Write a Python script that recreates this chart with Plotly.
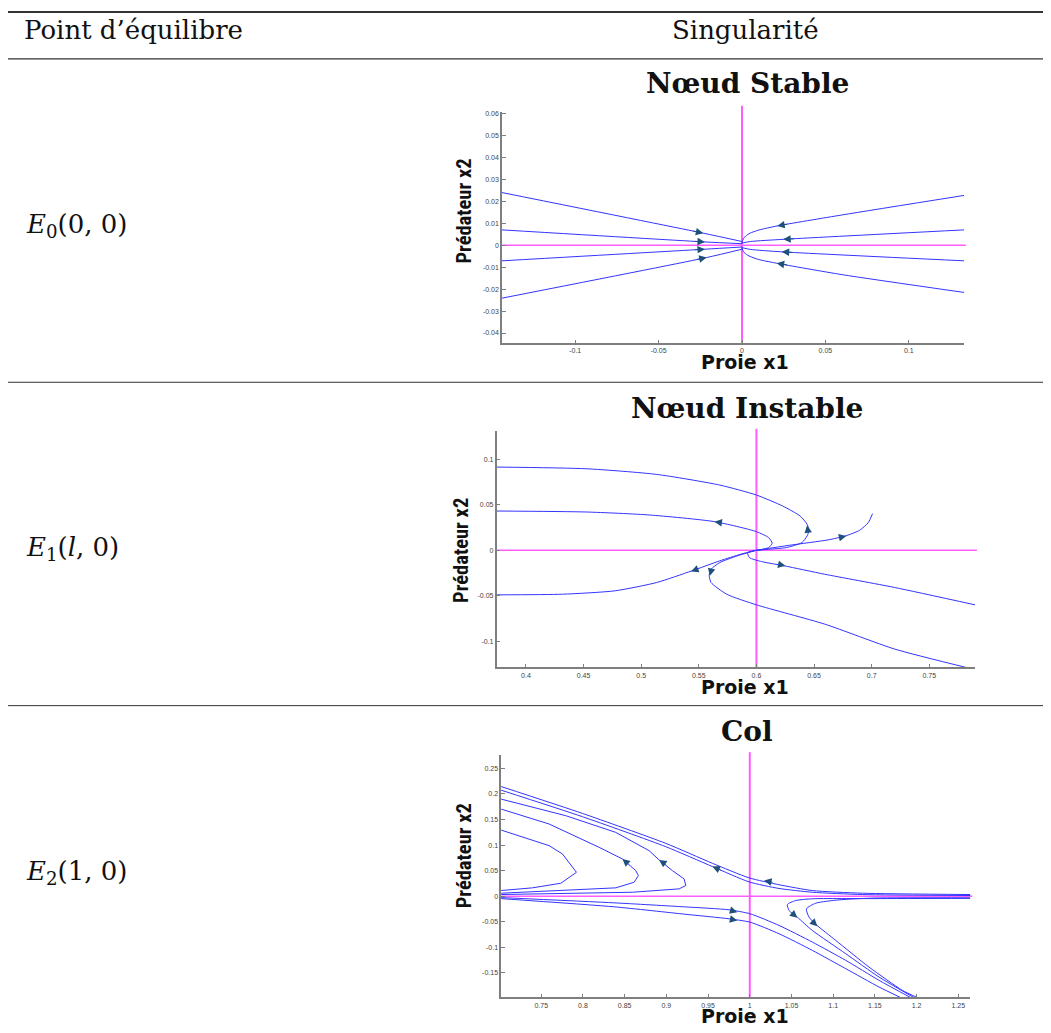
import plotly.graph_objects as go

# ---------------- data ----------------
# Panel 1 : stable node (E0)
p1_a_x = [-0.1439, -0.0232, 0.0]
p1_a_y = [0.0240, 0.0055, 0.0017]
p1_b_x = [-0.1439, -0.0222, 0.0]
p1_b_y = [0.0070, 0.0015, 0.0007]
p1_c_x = [-0.1439, -0.0222, 0.0]
p1_c_y = [-0.0071, -0.0018, -0.0008]
p1_d_x = [-0.1439, -0.0212, 0.0]
p1_d_y = [-0.0241, -0.0056, -0.0018]
p1_e_x = [0.1331, 0.06, 0.0211, 0.01, 0.0048, 0.0022, 0.0008, 0.0002, 0.0]
p1_e_y = [0.0227, 0.0138, 0.0088, 0.0069, 0.0055, 0.0042, 0.0029, 0.0017, 0.0008]
p1_f_x = [0.1331, 0.0247, 0.005, 0.0]
p1_f_y = [0.0070, 0.0027, 0.0017, 0.0010]
p1_g_x = [0.1331, 0.0238, 0.005, 0.0]
p1_g_y = [-0.0071, -0.0030, -0.0019, -0.0011]
p1_h_x = [0.1331, 0.06, 0.0208, 0.01, 0.0048, 0.0022, 0.0008, 0.0002, 0.0]
p1_h_y = [-0.0215, -0.0134, -0.0082, -0.0065, -0.0051, -0.0040, -0.0028, -0.0017, -0.0009]
p1_arrow_head_x = [-0.0232, -0.0222, -0.0222, -0.0212, 0.0211, 0.0247, 0.0238, 0.0208]
p1_arrow_head_y = [0.0055, 0.0015, -0.0018, -0.0056, 0.0088, 0.0027, -0.0030, -0.0082]
p1_arrow_tail_x = [-0.0300, -0.0290, -0.0290, -0.0280, 0.0280, 0.0320, 0.0310, 0.0280]
p1_arrow_tail_y = [0.0066, 0.0018, -0.0021, -0.0066, 0.0097, 0.0030, -0.0033, -0.0091]
p1_xtick_vals = [-0.1, -0.05, 0, 0.05, 0.1]
p1_xtick_text = ["-0.1", "-0.05", "0", "0.05", "0.1"]
p1_ytick_vals = [0.06, 0.05, 0.04, 0.03, 0.02, 0.01, 0, -0.01, -0.02, -0.03, -0.04]
p1_ytick_text = ["0.06", "0.05", "0.04", "0.03", "0.02", "0.01", "0", "-0.01", "-0.02", "-0.03", "-0.04"]

# Panel 2 : unstable node (E1)
p2_c1_x = [0.3745, 0.4528, 0.5135, 0.5681, 0.6000, 0.6228, 0.6379, 0.6440, 0.6455, 0.6440, 0.6395, 0.6258, 0.6106, 0.6000]
p2_c1_y = [0.0916, 0.0897, 0.0835, 0.0718, 0.0608, 0.0487, 0.0377, 0.0286, 0.0212, 0.0158, 0.0084, 0.0029, 0.0011, 0.0]
p2_c2_x = [0.3745, 0.4528, 0.5074, 0.5636, 0.6000, 0.6106, 0.6137, 0.6106, 0.6030, 0.6000]
p2_c2_y = [0.0432, 0.0421, 0.0388, 0.0315, 0.0205, 0.0139, 0.0077, 0.0029, 0.0004, 0.0]
p2_c3_x = [0.6000, 0.6288, 0.6622, 0.6774, 0.6896, 0.6971, 0.7008]
p2_c3_y = [0.0, 0.0055, 0.0114, 0.0158, 0.0220, 0.0304, 0.0403]
p2_c4_x = [0.6000, 0.5864, 0.5681, 0.5439, 0.5135, 0.4771, 0.4316, 0.3745]
p2_c4_y = [0.0, -0.0044, -0.0117, -0.0227, -0.0355, -0.0447, -0.0484, -0.0491]
p2_c5_x = [0.6000, 0.5833, 0.5681, 0.5606, 0.5590, 0.5606, 0.5742, 0.6000, 0.6592, 0.7200, 0.7851]
p2_c5_y = [0.0, -0.0062, -0.0136, -0.0209, -0.0275, -0.0355, -0.0484, -0.0601, -0.0813, -0.1088, -0.1300]
p2_c6_x = [0.6000, 0.5924, 0.5939, 0.6045, 0.6243, 0.6592, 0.7200, 0.7897]
p2_c6_y = [0.0, -0.0026, -0.0081, -0.0125, -0.0172, -0.0264, -0.0410, -0.0601]
p2_arrow_head_x = [0.6440, 0.5636, 0.6780, 0.5433, 0.5596, 0.6252]
p2_arrow_head_y = [0.0275, 0.0315, 0.0158, -0.0234, -0.0282, -0.0172]
p2_arrow_tail_x = [0.6446, 0.5697, 0.6713, 0.5499, 0.5606, 0.6182]
p2_arrow_tail_y = [0.0223, 0.0304, 0.0139, -0.0201, -0.0227, -0.0154]
p2_xtick_vals = [0.4, 0.45, 0.5, 0.55, 0.6, 0.65, 0.7, 0.75]
p2_xtick_text = ["0.4", "0.45", "0.5", "0.55", "0.6", "0.65", "0.7", "0.75"]
p2_ytick_vals = [0.1, 0.05, 0, -0.05, -0.1]
p2_ytick_text = ["0.1", "0.05", "0", "-0.05", "-0.1"]

# Panel 3 : saddle (E2)
p3_u1_x = [0.7016, 0.7594, 0.7754, 0.7922, 0.7735, 0.7394, 0.7016]
p3_u1_y = [0.1295, 0.0989, 0.0827, 0.0468, 0.0254, 0.0164, 0.0111]
p3_u2_x = [0.7016, 0.7594, 0.8194, 0.8473, 0.8633, 0.8665, 0.8613, 0.8394, 0.7016]
p3_u2_y = [0.1705, 0.1412, 0.0956, 0.0729, 0.0501, 0.0404, 0.0273, 0.0164, 0.0059]
p3_u3_x = [0.7016, 0.7795, 0.8394, 0.8793, 0.8913, 0.9072, 0.9213, 0.9233, 0.9153, 0.8593, 0.7016]
p3_u3_y = [0.1900, 0.1574, 0.1248, 0.0891, 0.0710, 0.0501, 0.0339, 0.0209, 0.0144, 0.0078, 0.0033]
p3_u4_x = [0.7016, 0.7994, 0.8993, 0.9552, 0.9992, 1.0351, 1.0750, 1.1350, 1.2645]
p3_u4_y = [0.2146, 0.1619, 0.1034, 0.0644, 0.0359, 0.0225, 0.0111, 0.0059, 0.0033]
p3_u5_x = [0.7016, 0.7994, 0.8993, 0.9552, 0.9992, 1.0351, 1.0750, 1.1350, 1.2645]
p3_u5_y = [0.2075, 0.1555, 0.0969, 0.0580, 0.0280, 0.0152, 0.0078, 0.0033, 0.0014]
p3_l1_x = [0.7016, 0.8383, 0.9220, 0.9752, 1.0004, 1.0351, 1.0751, 1.1151, 1.1550, 1.1930]
p3_l1_y = [-0.0026, -0.0130, -0.0208, -0.0265, -0.0343, -0.0571, -0.0897, -0.1254, -0.1644, -0.1982]
p3_l2_x = [0.7016, 0.8383, 0.9220, 0.9752, 1.0004, 1.0351, 1.0751, 1.1151, 1.1550, 1.1810]
p3_l2_y = [-0.0046, -0.0208, -0.0351, -0.0441, -0.0507, -0.0733, -0.1059, -0.1416, -0.1775, -0.1982]
p3_r1_x = [1.2645, 1.1500, 1.0750, 1.0551, 1.0451, 1.0471, 1.0571, 1.0750, 1.1151, 1.1550, 1.1969]
p3_r1_y = [-0.0042, -0.0046, -0.0050, -0.0084, -0.0162, -0.0279, -0.0410, -0.0669, -0.1124, -0.1580, -0.1982]
p3_r2_x = [1.2645, 1.1500, 1.1070, 1.0791, 1.0679, 1.0711, 1.0798, 1.1031, 1.1430, 1.1829, 1.2009]
p3_r2_y = [-0.0030, -0.0035, -0.0071, -0.0136, -0.0247, -0.0410, -0.0558, -0.0864, -0.1385, -0.1839, -0.1982]
p3_arrow_head_x = [0.8473, 0.8913, 0.9552, 1.0171, 0.9851, 0.9851, 1.0571, 1.0810]
p3_arrow_head_y = [0.0729, 0.0710, 0.0580, 0.0306, -0.0312, -0.0474, -0.0421, -0.0585]
p3_arrow_tail_x = [0.8553, 0.9012, 0.9672, 1.0291, 0.9752, 0.9752, 1.0491, 1.0731]
p3_arrow_tail_y = [0.0618, 0.0599, 0.0498, 0.0267, -0.0268, -0.0441, -0.0312, -0.0460]
p3_xtick_vals = [0.75, 0.8, 0.85, 0.9, 0.95, 1.0, 1.05, 1.1, 1.15, 1.2, 1.25]
p3_xtick_text = ["0.75", "0.8", "0.85", "0.9", "0.95", "1", "1.05", "1.1", "1.15", "1.2", "1.25"]
p3_ytick_vals = [0.25, 0.2, 0.15, 0.1, 0.05, 0, -0.05, -0.1, -0.15]
p3_ytick_text = ["0.25", "0.2", "0.15", "0.1", "0.05", "0", "-0.05", "-0.1", "-0.15"]

# equilibrium coordinates and labels
eq_x = [0.0, 0.6, 1.0]
row_labels = ["<i>E</i><sub>0</sub>(0, 0)", "<i>E</i><sub>1</sub>(<i>l</i>, 0)", "<i>E</i><sub>2</sub>(1, 0)"]
panel_titles = ["<b>Nœud Stable</b>", "<b>Nœud Instable</b>", "<b>Col</b>"]
header_left = "Point d’équilibre"
header_right = "Singularité"

# ---------------- styles / page geometry ----------------
LINE_BLUE = "#3434ff"
ARROW_BLUE = "#1f4f7c"
MAGENTA = "#ff5cff"
AXIS_GRAY = "#7f7f7f"
SERIF = "DejaVu Serif, Liberation Serif, serif"

OFF = 8                      # default body margin of the html page
FW, FH = 1051 - OFF, 1033 - OFF


def px(xp):
    return (xp - OFF) / FW


def py(yp):
    return 1 - (yp - OFF) / FH


S, L = "spline", "linear"
panels = [
    dict(curves=[(p1_a_x, p1_a_y, S), (p1_b_x, p1_b_y, S), (p1_c_x, p1_c_y, S), (p1_d_x, p1_d_y, S),
                 (p1_e_x, p1_e_y, S), (p1_f_x, p1_f_y, S), (p1_g_x, p1_g_y, S), (p1_h_x, p1_h_y, S)],
         arrows=(p1_arrow_head_x, p1_arrow_head_y, p1_arrow_tail_x, p1_arrow_tail_y),
         xt=(p1_xtick_vals, p1_xtick_text), yt=(p1_ytick_vals, p1_ytick_text),
         xrange=[-0.1439, 0.1331], yrange=[-0.0447, 0.0608],
         box=(502, 964, 110, 342), vtop=1.026,
         title_y=82, xlab_y=361, ylab_x=464, ylab_y=210, row_y=224),
    dict(curves=[(p2_c1_x, p2_c1_y, S), (p2_c2_x, p2_c2_y, S), (p2_c3_x, p2_c3_y, S),
                 (p2_c4_x, p2_c4_y, S), (p2_c5_x, p2_c5_y, S), (p2_c6_x, p2_c6_y, S)],
         arrows=(p2_arrow_head_x, p2_arrow_head_y, p2_arrow_tail_x, p2_arrow_tail_y),
         xt=(p2_xtick_vals, p2_xtick_text), yt=(p2_ytick_vals, p2_ytick_text),
         xrange=[0.3745, 0.7897], yrange=[-0.129, 0.1311],
         box=(496.6, 975, 430, 666.7), vtop=1.01,
         title_y=407, xlab_y=686, ylab_x=461, ylab_y=550, row_y=548),
    dict(curves=[(p3_u1_x, p3_u1_y, L), (p3_u2_x, p3_u2_y, L), (p3_u3_x, p3_u3_y, L),
                 (p3_u4_x, p3_u4_y, S), (p3_u5_x, p3_u5_y, S), (p3_l1_x, p3_l1_y, S),
                 (p3_l2_x, p3_l2_y, S), (p3_r1_x, p3_r1_y, S), (p3_r2_x, p3_r2_y, S)],
         arrows=(p3_arrow_head_x, p3_arrow_head_y, p3_arrow_tail_x, p3_arrow_tail_y),
         xt=(p3_xtick_vals, p3_xtick_text), yt=(p3_ytick_vals, p3_ytick_text),
         xrange=[0.702, 1.2645], yrange=[-0.1977, 0.2764],
         box=(501.2, 970.4, 754.3, 997.3), vtop=1.011,
         title_y=731, xlab_y=1016, ylab_x=464, ylab_y=856, row_y=872),
]

fig = go.Figure()
shapes = []
annotations = []
layout_axes = {}

for i, p in enumerate(panels, start=1):
    xa = "x" if i == 1 else f"x{i}"
    ya = "y" if i == 1 else f"y{i}"
    bl, br, bt, bb = p["box"]
    # magenta reference lines through the equilibrium
    shapes.append(dict(type="line", xref=xa, yref=f"{ya} domain", x0=eq_x[i - 1], x1=eq_x[i - 1],
                       y0=0, y1=p["vtop"], line=dict(color=MAGENTA, width=2), layer="below"))
    shapes.append(dict(type="line", xref=f"{xa} domain", yref=ya, x0=0, x1=1.004, y0=0, y1=0,
                       line=dict(color=MAGENTA, width=1.6), layer="below"))
    for cx, cy, shp in p["curves"]:
        line_style = dict(color=LINE_BLUE, width=1, shape=shp)
        if shp == "spline":
            line_style["smoothing"] = 0.6
        fig.add_trace(go.Scatter(x=cx, y=cy, mode="lines", xaxis=xa, yaxis=ya, line=line_style,
                                 showlegend=False, hoverinfo="skip"))
    hx, hy, tx, ty = p["arrows"]
    for a in range(len(hx)):
        annotations.append(dict(x=hx[a], y=hy[a], ax=tx[a], ay=ty[a], xref=xa, yref=ya,
                                axref=xa, ayref=ya, text="", showarrow=True, arrowhead=2,
                                arrowsize=1.5, arrowwidth=1, arrowcolor=ARROW_BLUE, standoff=0))
    common = dict(showgrid=False, zeroline=False, showline=True, linecolor=AXIS_GRAY, linewidth=1.5,
                  ticks="inside", ticklen=4, tickwidth=1, tickcolor=AXIS_GRAY,
                  tickfont=dict(family="Liberation Sans, Arial, sans-serif", size=7, color="#444"),
                  fixedrange=True)
    layout_axes["xaxis" if i == 1 else f"xaxis{i}"] = dict(
        domain=[px(bl), px(br)], range=p["xrange"], anchor=ya,
        tickvals=p["xt"][0], ticktext=p["xt"][1], **common)
    layout_axes["yaxis" if i == 1 else f"yaxis{i}"] = dict(
        domain=[py(bb), py(bt)], range=p["yrange"], anchor=xa,
        tickvals=p["yt"][0], ticktext=p["yt"][1], **common)
    # panel title
    annotations.append(dict(x=px(747), y=py(p["title_y"]), xref="paper", yref="paper",
                            text=panel_titles[i - 1], showarrow=False, xanchor="center", yanchor="middle",
                            font=dict(family=SERIF, size=28, color="#111")))
    # axis titles
    annotations.append(dict(x=px(745), y=py(p["xlab_y"]), xref="paper", yref="paper",
                            text="<b>Proie x1</b>", showarrow=False, xanchor="center", yanchor="middle",
                            font=dict(family="DejaVu Sans, Verdana, sans-serif", size=19, color="#111")))
    annotations.append(dict(x=px(p["ylab_x"]), y=py(p["ylab_y"]), xref="paper", yref="paper",
                            text="<b>Prédateur x2</b>", showarrow=False, textangle=-90,
                            xanchor="center", yanchor="middle",
                            font=dict(family="Roboto Condensed, Liberation Sans Narrow, Liberation Sans, sans-serif",
                                      size=20.5, color="#111")))
    # row label
    annotations.append(dict(x=px(24), y=py(p["row_y"]), xref="paper", yref="paper",
                            text=row_labels[i - 1], showarrow=False, xanchor="left", yanchor="middle",
                            font=dict(family=SERIF, size=26, color="#111")))

# table header
annotations.append(dict(x=px(22), y=py(28), xref="paper", yref="paper", text=header_left,
                        showarrow=False, xanchor="left", yanchor="middle",
                        font=dict(family=SERIF, size=26, color="#111")))
annotations.append(dict(x=px(745), y=py(28), xref="paper", yref="paper", text=header_right,
                        showarrow=False, xanchor="center", yanchor="middle",
                        font=dict(family=SERIF, size=26, color="#111")))

# table rules
for ypx, wdt in [(10, 1.8), (57, 1.4), (381, 1.0), (705, 1.0)]:
    shapes.append(dict(type="line", xref="paper", yref="paper", x0=0, x1=1, y0=py(ypx), y1=py(ypx),
                       line=dict(color="#333", width=wdt)))

fig.update_layout(width=FW, height=FH, margin=dict(l=0, r=0, t=0, b=0),
                  paper_bgcolor="white", plot_bgcolor="white", showlegend=False,
                  shapes=shapes, annotations=annotations, **layout_axes)
fig.write_html("out.html")
